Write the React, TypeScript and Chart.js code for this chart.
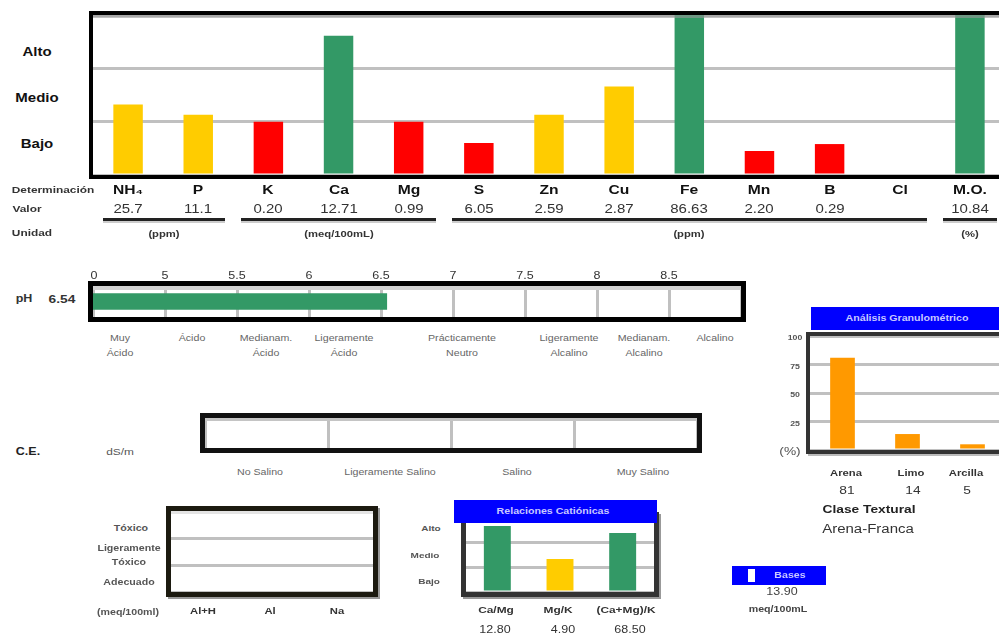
import React, { useEffect, useRef } from 'react';
import { Chart, registerables } from 'chart.js';

Chart.register(...registerables);

// ---------------- data ----------------
const levelLabels = ['Alto', 'Medio', 'Bajo'];
const nutrientNames = ['NH₄', 'P', 'K', 'Ca', 'Mg', 'S', 'Zn', 'Cu', 'Fe', 'Mn', 'B', 'Cl', 'M.O.'];
const nutrientValues = ['25.7', '11.1', '0.20', '12.71', '0.99', '6.05', '2.59', '2.87', '86.63', '2.20', '0.29', '', '10.84'];
const nutrientLevels = [1.32, 1.13, 1.0, 2.61, 1.0, 0.6, 1.13, 1.66, 3, 0.45, 0.58, null, 3];
const nutrientClasses = ['Medio', 'Medio', 'Bajo', 'Alto', 'Bajo', 'Bajo', 'Medio', 'Medio', 'Alto', 'Bajo', 'Bajo', '', 'Alto'];
const unitLabels = ['(ppm)', '(meq/100mL)', '(ppm)', '(%)'];
const unitFrom = [0, 2, 5, 12];
const unitTo = [1, 4, 11, 12];

const phValue = 6.54;
const phTickValues = [4.5, 5, 5.5, 6, 6.5, 7, 7.5, 8, 8.5, 9];
const phTickLabels = ['0', '5', '5.5', '6', '6.5', '7', '7.5', '8', '8.5', ''];
const phClasses = [['Muy', 'Ácido'], ['Ácido'], ['Medianam.', 'Ácido'], ['Ligeramente', 'Ácido'], ['Prácticamente', 'Neutro'], ['Ligeramente', 'Alcalino'], ['Medianam.', 'Alcalino'], ['Alcalino']];

const ceTicks = [0, 1, 2, 3, 4];
const ceClasses = ['No Salino', 'Ligeramente Salino', 'Salino', 'Muy Salino'];

const acidCats = ['Al+H', 'Al', 'Na'];
const acidValues = [null, null, null];
const acidLevels = [['Tóxico'], ['Ligeramente', 'Tóxico'], ['Adecuado']];

const ratioCats = ['Ca/Mg', 'Mg/K', '(Ca+Mg)/K'];
const ratioValues = ['12.80', '4.90', '68.50'];
const ratioLevels = [2.64, 1.32, 2.36];
const ratioClasses = ['Alto', 'Medio', 'Alto'];

const basesValue = '13.90';

const textureCats = ['Arena', 'Limo', 'Arcilla'];
const texturePct = [81, 14, 5];
const textureTicks = [0, 25, 50, 75, 100];
const textureTickLabels = ['(%)', '25', '50', '75', '100'];
const textureClass = 'Arena-Franca';

// ---------------- layout / style ----------------
const classColor: Record<string, string> = { Alto: '#339966', Medio: '#FFCC00', Bajo: '#FF0000', '': '#ffffff' };
const GRID = 'rgba(150,150,150,0.6)';
const SX = 1.25;
const PAD = 10;
const MAIN = { l: 93, t: 15, r: 1005, b: 175 };
const PH = { l: 93, t: 286, r: 741, b: 317 };
const CE = { l: 205, t: 418, r: 697, b: 448 };
const ACID = { l: 171, t: 511, r: 373, b: 592 };
const RATIO = { l: 466, t: 517, r: 654, b: 592 };
const TEX = { l: 810, t: 336, r: 1005, b: 450 };
const phClassX = [120, 192, 266, 344, 462, 569, 644, 715];
const ceClassX = [260, 390, 517, 643];

const framePlugin = {
  id: 'frame',
  afterDraw(chart: any, _a: any, o: any) {
    if (!o || !o.width) return;
    const { ctx, chartArea: a } = chart;
    const w = o.width;
    const h = w / 2;
    ctx.save();
    if (o.topLine) {
      ctx.fillStyle = o.topLine;
      ctx.fillRect(a.left, a.top, a.right - a.left, o.topLineWidth || 3);
    }
    if (o.shadow) {
      ctx.fillStyle = o.shadow;
      ctx.fillRect(a.right + w, a.top - w + 2, 2, a.bottom - a.top + 2 * w);
      ctx.fillRect(a.left - w + 2, a.bottom + w, a.right - a.left + 2 * w, 2);
    }
    ctx.strokeStyle = o.color;
    ctx.lineWidth = w;
    ctx.strokeRect(a.left - h, a.top - h, a.right - a.left + w, a.bottom - a.top + w);
    ctx.restore();
  },
};
Chart.register(framePlugin);

function gridAxis(min: number, max: number, ticks: number[], z = 1, lw = 3) {
  return {
    display: true,
    min,
    max,
    z,
    ticks: { display: false },
    border: { display: false },
    grid: { color: GRID, lineWidth: lw, drawTicks: false },
    afterBuildTicks: (s: any) => {
      s.ticks = ticks.map((v) => ({ value: v }));
    },
  };
}

function baseOptions(scales: any, frame: any, extra: any = {}) {
  return {
    responsive: false,
    animation: false,
    devicePixelRatio: 1,
    events: [],
    layout: { padding: PAD },
    scales,
    plugins: { legend: { display: false }, tooltip: { enabled: false }, frame },
    ...extra,
  };
}

function ChartBox({ area, config }: any) {
  const ref = useRef<HTMLCanvasElement>(null);
  const w = area.r - area.l + 2 * PAD;
  const h = area.b - area.t + 2 * PAD;
  useEffect(() => {
    const c = new Chart(ref.current as HTMLCanvasElement, config());
    return () => c.destroy();
  }, []);
  return (
    <canvas
      ref={ref}
      width={w}
      height={h}
      style={{ position: 'absolute', left: area.l - PAD, top: area.t - PAD, width: w, height: h }}
    />
  );
}

function T({ x, y, children, size = 10, bold = false, color = '#222', sx = SX }: any) {
  return (
    <span
      style={{
        position: 'absolute',
        left: x,
        top: y,
        transform: `translate(-50%,-50%) scaleX(${sx})`,
        whiteSpace: 'nowrap',
        fontSize: size,
        fontWeight: bold ? 700 : 400,
        color,
        lineHeight: 1,
      }}
    >
      {children}
    </span>
  );
}

const catW = (MAIN.r - MAIN.l) / nutrientNames.length;
const catX = (i: number) => MAIN.l + catW * (i + 0.5);
const phX = (v: number) => PH.l + ((v - phTickValues[0]) / (phTickValues[phTickValues.length - 1] - phTickValues[0])) * (PH.r - PH.l);
const texY = (v: number) => TEX.b - (v / 100) * (TEX.b - TEX.t);
const ratioX = (i: number) => RATIO.l + ((RATIO.r - RATIO.l) / ratioCats.length) * (i + 0.5);
const acidX = (i: number) => ACID.l + ((ACID.r - ACID.l) / acidCats.length) * (i + 0.5);
const texX = (i: number) => TEX.l + ((TEX.r - TEX.l) / textureCats.length) * (i + 0.5);

export default function App() {
  const levelY = [52, 98, 144];
  return (
    <div
      style={{
        position: 'absolute',
        left: 0,
        top: 0,
        width: 999,
        height: 636,
        overflow: 'hidden',
        background: '#fff',
        fontFamily: '"Liberation Sans", Arial, sans-serif',
      }}
    >
      {/* main nutrient chart */}
      <ChartBox
        area={MAIN}
        config={() => ({
          type: 'bar',
          data: {
            labels: nutrientNames,
            datasets: [
              {
                data: nutrientLevels,
                backgroundColor: nutrientClasses.map((c) => classColor[c]),
                barPercentage: 0.42,
                categoryPercentage: 1,
              },
            ],
          },
          options: baseOptions(
            { x: { display: false }, y: gridAxis(0, 3, [0, 1, 2, 3]) },
            { color: '#000', width: 4, topLine: 'rgba(150,150,150,0.6)', topLineWidth: 3 }
          ),
        })}
      />
      {levelLabels.map((s, i) => (
        <T key={s} x={37} y={levelY[i]} size={12} bold color="#111">{s}</T>
      ))}
      <T x={53} y={190} size={9.5} bold color="#333">Determinación</T>
      <T x={27} y={209} size={9.5} bold color="#333">Valor</T>
      <T x={32} y={233} size={9.5} bold color="#333">Unidad</T>
      {nutrientNames.map((n, i) => (
        <T key={'n' + i} x={catX(i)} y={190} size={12.5} bold color="#111">{n}</T>
      ))}
      {nutrientValues.map((v, i) => (
        <T key={'v' + i} x={catX(i)} y={209} size={12} color="#333">{v}</T>
      ))}
      {unitLabels.map((u, k) => {
        const left = MAIN.l + catW * unitFrom[k] + (k === 0 ? 10 : 8);
        const right = MAIN.l + catW * (unitTo[k] + 1) - 8;
        return (
          <React.Fragment key={'u' + k}>
            <div style={{ position: 'absolute', left, top: 218, width: right - left, height: 3, background: '#222', boxShadow: '0 2px 0 #ccc' }} />
            <T x={(left + Math.min(right, 1000)) / 2} y={234} size={9} bold color="#333">{u}</T>
          </React.Fragment>
        );
      })}

      {/* pH */}
      <ChartBox
        area={PH}
        config={() => ({
          type: 'bar',
          data: {
            labels: ['pH'],
            datasets: [{ data: [[phTickValues[0], phValue]], backgroundColor: '#339966', barThickness: 16 }],
          },
          options: baseOptions(
            { x: gridAxis(phTickValues[0], phTickValues[phTickValues.length - 1], phTickValues), y: { display: false } },
            { color: '#000', width: 5, topLine: '#d0d0d0', topLineWidth: 4 },
            { indexAxis: 'y' }
          ),
        })}
      />
      {phTickLabels.map((s, i) => (
        <T key={'pt' + i} x={phX(phTickValues[i]) + (i === 0 ? 1 : 0)} y={276} size={10} color="#333">{s}</T>
      ))}
      <T x={24} y={299} size={10} bold color="#333">pH</T>
      <T x={62} y={299} size={11} bold color="#333">{phValue.toFixed(2)}</T>
      {phClasses.map((lines, i) =>
        lines.map((s, j) => (
          <T key={'pc' + i + j} x={phClassX[i]} y={338 + j * 15} size={8.5} color="#666">{s}</T>
        ))
      )}

      {/* C.E. */}
      <ChartBox
        area={CE}
        config={() => ({
          type: 'bar',
          data: { labels: ['C.E.'], datasets: [{ data: [null] }] },
          options: baseOptions(
            { x: gridAxis(ceTicks[0], ceTicks[ceTicks.length - 1], ceTicks), y: { display: false } },
            { color: '#111', width: 5, topLine: '#c4c4c4', topLineWidth: 3 },
            { indexAxis: 'y' }
          ),
        })}
      />
      <T x={28} y={452} size={10} bold color="#222">C.E.</T>
      <T x={120} y={452} size={9.5} color="#555">dS/m</T>
      {ceClasses.map((s, i) => (
        <T key={'ce' + i} x={ceClassX[i]} y={472} size={8.5} color="#666">{s}</T>
      ))}

      {/* acidity / cations */}
      <ChartBox
        area={ACID}
        config={() => ({
          type: 'bar',
          data: { labels: acidCats, datasets: [{ data: acidValues }] },
          options: baseOptions(
            { x: { display: false }, y: gridAxis(0, 3, [0, 1, 2, 3]) },
            { color: '#1c1a10', width: 5, topLine: '#e4e4e4', topLineWidth: 3, shadow: '#999' }
          ),
        })}
      />
      <T x={131} y={528} size={8.5} bold color="#555">{acidLevels[0][0]}</T>
      <T x={129} y={548} size={8.5} bold color="#555">{acidLevels[1][0]}</T>
      <T x={129} y={562} size={8.5} bold color="#555">{acidLevels[1][1]}</T>
      <T x={129} y={582} size={8.5} bold color="#555">{acidLevels[2][0]}</T>
      <T x={128} y={612} size={8.5} bold color="#555">(meq/100ml)</T>
      {acidCats.map((s, i) => (
        <T key={'ac' + i} x={acidX(i) - 2} y={611} size={9} bold color="#333">{s}</T>
      ))}

      {/* ratios */}
      <ChartBox
        area={RATIO}
        config={() => ({
          type: 'bar',
          data: {
            labels: ratioCats,
            datasets: [
              { data: ratioLevels, backgroundColor: ratioClasses.map((c) => classColor[c]), barPercentage: 0.43, categoryPercentage: 1 },
            ],
          },
          options: baseOptions({ x: { display: false }, y: gridAxis(0, 3, [0, 1, 2, 3]) }, { color: '#333', width: 5, shadow: '#999' }),
        })}
      />
      <div style={{ position: 'absolute', left: 454, top: 500, width: 203, height: 23, background: '#0000FF' }} />
      <T x={553} y={511} size={8.5} bold color="#c8c8ff">Relaciones Catiónicas</T>
      {levelLabels.map((s, i) => (
        <T key={'rl' + i} x={[431, 425, 429][i]} y={[529, 556, 582][i]} size={8} bold color="#555">{s}</T>
      ))}
      {ratioCats.map((s, i) => (
        <T key={'rc' + i} x={ratioX(i) + [-1, -2, 3][i]} y={610} size={9.5} bold color="#333">{s}</T>
      ))}
      {ratioValues.map((s, i) => (
        <T key={'rv' + i} x={ratioX(i) + [-2, 3, 7][i]} y={630} size={10} color="#333">{s}</T>
      ))}

      {/* bases */}
      <div style={{ position: 'absolute', left: 732, top: 566, width: 94, height: 19, background: '#0000FF' }} />
      <div style={{ position: 'absolute', left: 748, top: 569, width: 7, height: 13, background: '#fff' }} />
      <T x={790} y={575} size={8.5} bold color="#c8c8ff">Bases</T>
      <T x={782} y={592} size={10} color="#444">{basesValue}</T>
      <T x={778} y={609} size={8.5} bold color="#444">meq/100mL</T>

      {/* texture */}
      <ChartBox
        area={TEX}
        config={() => ({
          type: 'bar',
          data: {
            labels: textureCats,
            datasets: [{ data: texturePct, backgroundColor: '#FF9900', barPercentage: 0.38, categoryPercentage: 1 }],
          },
          options: baseOptions(
            { x: { display: false }, y: gridAxis(0, 100, textureTicks, 0) },
            { color: '#333', width: 4, shadow: '#bbb' }
          ),
        })}
      />
      <div style={{ position: 'absolute', left: 811, top: 307, width: 200, height: 23, background: '#0000FF' }} />
      <T x={907} y={318} size={8.5} bold color="#c8c8ff">Análisis Granulométrico</T>
      {textureTickLabels.map((s, i) => (
        <T key={'tt' + i} x={i === 0 ? 790 : 795} y={texY(textureTicks[i]) + 1} size={i === 0 ? 11 : 7} bold={i !== 0} color="#555">{s}</T>
      ))}
      {textureCats.map((s, i) => (
        <T key={'tc' + i} x={texX(i) + [3, 3, -7][i]} y={473} size={9} bold color="#333">{s}</T>
      ))}
      {texturePct.map((v, i) => (
        <T key={'tv' + i} x={texX(i) + [4, 5, -6][i]} y={490} size={11} color="#333">{v}</T>
      ))}
      <T x={869} y={509} size={11} bold color="#222">Clase Textural</T>
      <T x={868} y={529} size={12} color="#333">{textureClass}</T>
    </div>
  );
}
